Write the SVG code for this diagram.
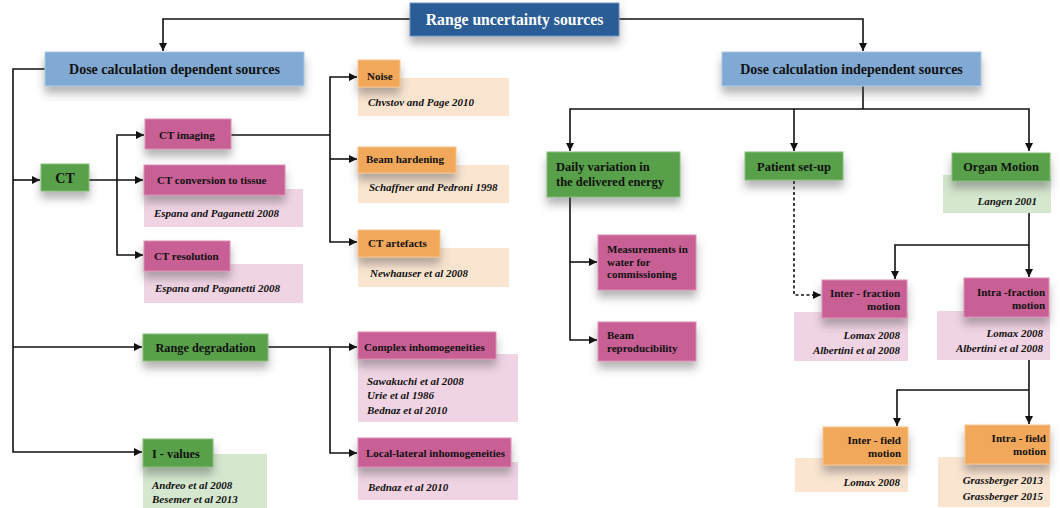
<svg xmlns="http://www.w3.org/2000/svg" width="1060" height="508" viewBox="0 0 1060 508">
  <defs>
    <style>
      .t { font-family: "Liberation Serif", "Times New Roman", serif; font-weight: bold; fill: #111; }
      .lbl { font-size: 11px; }
      .med { font-size: 12.3px; }
      .lg { font-size: 12.5px; }
      .big { font-size: 14px; }
      .ref { font-size: 11px; font-style: italic; }
      .mid { text-anchor: middle; }
      .end { text-anchor: end; }
      .title { font-size: 15.7px; fill: #fff; }
      .navy { fill: #2b5b95; stroke: #6f93c0; stroke-width: 1; }
      .blue { fill: #80a9d3; stroke: #a9c5e3; stroke-width: 1; }
      .green { fill: #58a04a; stroke: #86bd7a; stroke-width: 1; }
      .pink { fill: #c85f95; stroke: #dc8fb6; stroke-width: 1; }
      .orange { fill: #f1a85a; stroke: #f7c48d; stroke-width: 1; }
      .rpink { fill: #f1d4e4; }
      .rorange { fill: #fbe5d1; }
      .rgreen { fill: #d5e8cf; }
      .sh { filter: url(#shadow); }
      .wire { fill: none; stroke: #111; stroke-width: 1.6; }
      .arr { marker-end: url(#head); }
      .dash { stroke-dasharray: 3 2.5; }
    </style>
    <filter id="shadow" x="-20%" y="-40%" width="140%" height="200%">
      <feDropShadow dx="0" dy="7" stdDeviation="4" flood-color="#444" flood-opacity="0.4"/>
    </filter>
    <marker id="head" markerUnits="userSpaceOnUse" markerWidth="9" markerHeight="9" refX="8" refY="4" orient="auto">
      <path d="M0,0 L8,4 L0,8 z" fill="#111"/>
    </marker>
  </defs>

  <!-- connectors -->
  <g id="connectors">
    <path class="wire arr" d="M410,19 H163 V51"/>
    <path class="wire arr" d="M619,19 H863 V51"/>
    <!-- dose calculation dependent branch -->
    <path class="wire arr" d="M45,69 H13 V452 H142"/>
    <path class="wire arr" d="M13,180 H40"/>
    <path class="wire arr" d="M13,347 H142"/>
    <path class="wire arr" d="M89,180 H143"/>
    <path class="wire arr" d="M117,180 V135 H144"/>
    <path class="wire arr" d="M117,180 V255 H143"/>
    <path class="wire" d="M231,135 H330"/>
    <path class="wire arr" d="M330,135 V77 H357"/>
    <path class="wire arr" d="M330,159 H357"/>
    <path class="wire arr" d="M330,135 V242 H357"/>
    <path class="wire arr" d="M268,347 H357"/>
    <path class="wire arr" d="M330,347 V453 H357"/>
    <!-- dose calculation independent branch -->
    <path class="wire" d="M863,86 V109"/>
    <path class="wire arr" d="M863,109 H570 V151"/>
    <path class="wire arr" d="M794,109 V151"/>
    <path class="wire arr" d="M863,109 H1029 V151"/>
    <path class="wire arr" d="M570,197 V340 H597"/>
    <path class="wire arr" d="M570,262 H597"/>
    <path class="wire arr dash" d="M794,181 V295 H821"/>
    <path class="wire arr" d="M1029,213 V277"/>
    <path class="wire arr" d="M1029,245 H895 V279"/>
    <path class="wire arr" d="M1029,360 V424"/>
    <path class="wire arr" d="M1029,390 H897 V426"/>
  </g>

  <g id="range-uncertainty">
    <rect class="navy sh" x="410" y="3" width="209" height="33"/>
    <text class="t title mid" x="514.5" y="24.5">Range uncertainty sources</text>
  </g>

  <g id="dose-dependent">
    <rect class="blue sh" x="45" y="52" width="259" height="34"/>
    <text class="t big mid" x="174.5" y="74">Dose calculation dependent sources</text>
  </g>

  <g id="dose-independent">
    <rect class="blue sh" x="722" y="52" width="259" height="34"/>
    <text class="t big mid" x="851.5" y="74">Dose calculation independent sources</text>
  </g>

  <g id="ct">
    <rect class="green sh" x="41" y="164" width="48" height="27"/>
    <text class="t big mid" x="65" y="182.5">CT</text>
  </g>

  <g id="ct-imaging">
    <rect class="pink sh" x="145" y="119" width="86" height="30"/>
    <text class="t lbl" x="159" y="138.5">CT imaging</text>
  </g>

  <g id="ct-conversion">
    <rect class="rpink" x="144" y="189" width="159" height="38"/>
    <text class="t ref" x="154" y="216.5">Espana and Paganetti 2008</text>
    <rect class="pink sh" x="144" y="165" width="141" height="30"/>
    <text class="t lbl" x="157" y="184">CT conversion to tissue</text>
  </g>

  <g id="ct-resolution">
    <rect class="rpink" x="144" y="264" width="159" height="39"/>
    <text class="t ref" x="155" y="291.5">Espana and Paganetti 2008</text>
    <rect class="pink sh" x="144" y="241" width="86" height="30"/>
    <text class="t lbl" x="154" y="260">CT resolution</text>
  </g>

  <g id="noise">
    <rect class="rorange" x="358" y="78" width="151" height="38"/>
    <text class="t ref" x="368" y="105.5">Chvstov and Page 2010</text>
    <rect class="orange sh" x="358" y="60" width="42" height="27"/>
    <text class="t lbl" x="367" y="80">Noise</text>
  </g>

  <g id="beam-hardening">
    <rect class="rorange" x="358" y="165" width="151" height="38"/>
    <text class="t ref" x="369" y="190.5">Schaffner and Pedroni 1998</text>
    <rect class="orange sh" x="358" y="147" width="98" height="26"/>
    <text class="t lbl" x="366" y="163">Beam hardening</text>
  </g>

  <g id="ct-artefacts">
    <rect class="rorange" x="358" y="248" width="151" height="39"/>
    <text class="t ref" x="370" y="276.5">Newhauser et al 2008</text>
    <rect class="orange sh" x="358" y="230" width="82" height="27"/>
    <text class="t lbl" x="368" y="247">CT artefacts</text>
  </g>

  <g id="range-degradation">
    <rect class="green sh" x="143" y="334" width="125" height="27"/>
    <text class="t med mid" x="205.5" y="352">Range degradation</text>
  </g>

  <g id="complex-inhomogeneities">
    <rect class="rpink" x="358" y="354" width="160" height="68"/>
    <text class="t ref" x="367" y="384.5">Sawakuchi et al 2008</text>
    <text class="t ref" x="367" y="399">Urie et al 1986</text>
    <text class="t ref" x="367" y="413.5">Bednaz et al 2010</text>
    <rect class="pink sh" x="358" y="332" width="138" height="27"/>
    <text class="t lbl" x="364" y="350.5">Complex inhomogeneities</text>
  </g>

  <g id="local-lateral-inhomogeneities">
    <rect class="rpink" x="358" y="462" width="160" height="38"/>
    <text class="t ref" x="368" y="490.5">Bednaz et al 2010</text>
    <rect class="pink sh" x="358" y="438" width="153" height="29"/>
    <text class="t lbl" x="366" y="457">Local-lateral inhomogeneities</text>
  </g>

  <g id="i-values">
    <rect class="rgreen" x="143" y="454" width="124" height="54"/>
    <text class="t ref" x="152" y="488.5">Andreo et al 2008</text>
    <text class="t ref" x="152" y="503">Besemer et al 2013</text>
    <rect class="green sh" x="143" y="439" width="70" height="28"/>
    <text class="t med" x="152" y="457.5">I - values</text>
  </g>

  <g id="daily-variation">
    <rect class="green sh" x="547" y="152" width="133" height="45"/>
    <text class="t lg" x="556" y="171">Daily variation in</text>
    <text class="t lg" x="556" y="186">the delivered energy</text>
  </g>

  <g id="measurements">
    <rect class="pink sh" x="598" y="235" width="98" height="55"/>
    <text class="t lbl" x="607" y="253">Measurements in</text>
    <text class="t lbl" x="607" y="265.5">water for</text>
    <text class="t lbl" x="607" y="278">commissioning</text>
  </g>

  <g id="beam-reproducibility">
    <rect class="pink sh" x="598" y="322" width="98" height="39"/>
    <text class="t lbl" x="607" y="339">Beam</text>
    <text class="t lbl" x="607" y="351.5">reproducibility</text>
  </g>

  <g id="patient-setup">
    <rect class="green sh" x="745" y="152" width="98" height="28"/>
    <text class="t lg mid" x="794" y="170.5">Patient set-up</text>
  </g>

  <g id="organ-motion">
    <rect class="rgreen" x="943" y="175" width="108" height="38"/>
    <text class="t ref end" x="1037" y="205">Langen 2001</text>
    <rect class="green sh" x="952" y="153" width="98" height="28"/>
    <text class="t med mid" x="1001" y="171">Organ Motion</text>
  </g>

  <g id="inter-fraction">
    <rect class="rpink" x="794" y="312" width="114" height="49"/>
    <text class="t ref end" x="900" y="339">Lomax 2008</text>
    <text class="t ref end" x="900" y="354">Albertini et al 2008</text>
    <rect class="pink sh" x="822" y="280" width="85" height="38"/>
    <text class="t lbl end" x="900" y="297">Inter - fraction</text>
    <text class="t lbl end" x="900" y="310">motion</text>
  </g>

  <g id="intra-fraction">
    <rect class="rpink" x="937" y="311" width="113" height="49"/>
    <text class="t ref end" x="1043" y="337">Lomax 2008</text>
    <text class="t ref end" x="1043" y="352">Albertini et al 2008</text>
    <rect class="pink sh" x="964" y="278" width="85" height="39"/>
    <text class="t lbl end" x="1045" y="296">Intra -fraction</text>
    <text class="t lbl end" x="1045" y="308.5">motion</text>
  </g>

  <g id="inter-field">
    <rect class="rorange" x="795" y="458" width="113" height="34"/>
    <text class="t ref end" x="900" y="486">Lomax 2008</text>
    <rect class="orange sh" x="823" y="427" width="85" height="38"/>
    <text class="t lbl end" x="901" y="444">Inter - field</text>
    <text class="t lbl end" x="901" y="456.5">motion</text>
  </g>

  <g id="intra-field">
    <rect class="rorange" x="938" y="457" width="112" height="50"/>
    <text class="t ref end" x="1043" y="484">Grassberger 2013</text>
    <text class="t ref end" x="1043" y="500">Grassberger 2015</text>
    <rect class="orange sh" x="965" y="425" width="85" height="39"/>
    <text class="t lbl end" x="1046" y="442">Intra - field</text>
    <text class="t lbl end" x="1046" y="455">motion</text>
  </g>
</svg>
